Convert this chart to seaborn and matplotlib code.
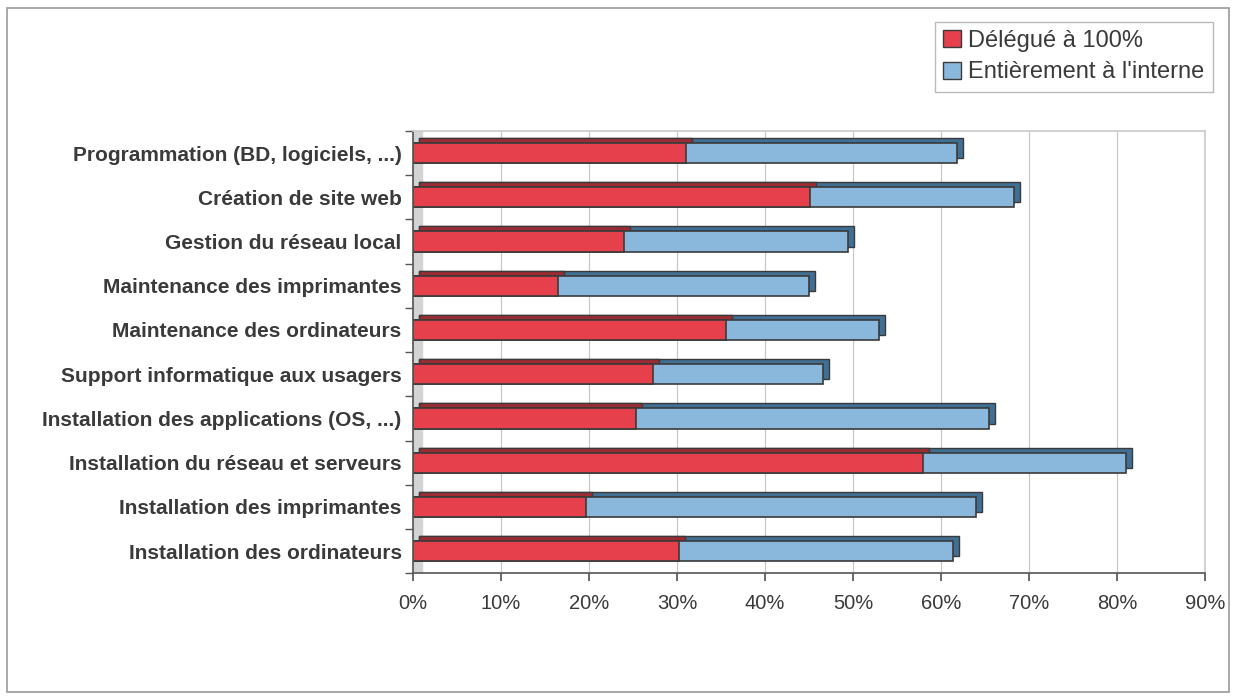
import matplotlib
matplotlib.use('Agg')
import matplotlib.pyplot as plt
import matplotlib.transforms as mtransforms
import seaborn as sns
import pandas as pd
from matplotlib.patches import Rectangle, Patch

# Data (percent)
categories = [
    'Programmation (BD, logiciels, ...)',
    'Création de site web',
    'Gestion du réseau local',
    'Maintenance des imprimantes',
    'Maintenance des ordinateurs',
    'Support informatique aux usagers',
    'Installation des applications (OS, ...)',
    'Installation du réseau et serveurs',
    'Installation des imprimantes',
    'Installation des ordinateurs',
]
delegue = [31.0, 45.1, 24.0, 16.5, 35.6, 27.3, 25.3, 58.0, 19.7, 30.2]
interne = [30.8, 23.2, 25.4, 28.5, 17.4, 19.3, 40.1, 23.0, 44.3, 31.2]
x_ticks = [0, 10, 20, 30, 40, 50, 60, 70, 80, 90]

df = pd.DataFrame({'categorie': categories, 'delegue': delegue, 'interne': interne})
df['total'] = df['delegue'] + df['interne']

red = '#E6404C'
blue = '#8AB8DD'
red_dark = '#9E2A33'
blue_dark = '#3F6F93'
text_col = '#3a3a3a'

sns.set_theme(style='white')
plt.rcParams['font.family'] = ['Liberation Sans', 'DejaVu Sans']

fig = plt.figure(figsize=(12.36, 7), dpi=100)
ax = fig.add_axes([0.334, 0.181, 0.641, 0.632])

# depth faces (drawn first, shifted up-right), then front faces
bar_kw = dict(orient='h', order=categories, width=0.46, edgecolor='#3a3a3a',
              linewidth=1.0, saturation=1, ax=ax)
sns.barplot(data=df, y='categorie', x='total', color=blue_dark, **bar_kw)
sns.barplot(data=df, y='categorie', x='delegue', color=red_dark, **bar_kw)
depth_patches = list(ax.patches)
shift = mtransforms.ScaledTranslation(6 / 100, 5 / 100, fig.dpi_scale_trans)
for p in depth_patches:
    p.set_transform(ax.transData + shift)

sns.barplot(data=df, y='categorie', x='total', color=blue, **bar_kw)
sns.barplot(data=df, y='categorie', x='delegue', color=red, **bar_kw)
for p in ax.patches:
    if p not in depth_patches:
        p.set_linewidth(1.2)

# grey "left wall" of the 3D chart
ax.axvspan(0, 1.0, color='#d4d4d4', zorder=0.5)

ax.set_xlim(0, 90)
ax.set_ylim(len(categories) - 0.5, -0.5)
ax.set_xticks(x_ticks)
ax.set_xticklabels([f'{t}%' for t in x_ticks], fontsize=14.5, color=text_col)
ax.set_xlabel('')
ax.set_ylabel('')
ax.tick_params(axis='y', labelsize=15, length=0, pad=8)
for lbl in ax.get_yticklabels():
    lbl.set_fontweight('bold')
    lbl.set_color(text_col)
ax.set_yticks([i + 0.5 for i in range(-1, len(categories))], minor=True)
ax.tick_params(axis='y', which='minor', left=True, length=6, color='#555555')
ax.tick_params(axis='x', bottom=True, length=6, color='#555555', pad=9)

ax.grid(axis='x', color='#c8c8c8', linewidth=0.9)
ax.set_axisbelow(True)
for side in ['top', 'right']:
    ax.spines[side].set_color('#cccccc')
for side in ['left', 'bottom']:
    ax.spines[side].set_color('#555555')
    ax.spines[side].set_linewidth(1.2)

# legend box in the upper right
handles = [Patch(facecolor=red, edgecolor='#3a3a3a', label='Délégué à 100%'),
           Patch(facecolor=blue, edgecolor='#3a3a3a', label="Entièrement à l'interne")]
leg = fig.legend(handles=handles, loc='upper right', bbox_to_anchor=(0.981, 0.969),
                 fontsize=17, handlelength=0.75, handleheight=0.75, handletextpad=0.3,
                 frameon=True, fancybox=False, edgecolor='#aaaaaa', borderpad=0.35,
                 labelspacing=0.4, borderaxespad=0)
for t in leg.get_texts():
    t.set_color(text_col)

# outer frame of the chart
fig.patches.append(Rectangle((0.006, 0.011), 0.988, 0.978, transform=fig.transFigure,
                             fill=False, edgecolor='#999999', linewidth=1.2))

plt.savefig('out.png', dpi=100)
plt.close()
